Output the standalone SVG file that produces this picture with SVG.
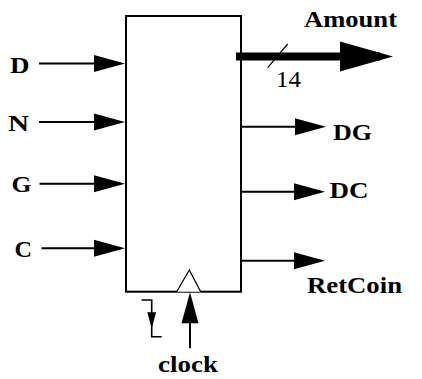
<svg xmlns="http://www.w3.org/2000/svg" width="422" height="379" viewBox="0 0 422 379">
  <style>
    .lbl { font-family: "Liberation Serif", "Times New Roman", serif; font-weight: bold; font-size: 22.5px; fill: #000; }
    .num { font-family: "Liberation Serif", "Times New Roman", serif; font-size: 24px; fill: #000; }
    .wire { fill: none; stroke: #000; stroke-width: 2; }
    .bus { fill: none; stroke: #000; stroke-width: 8; }
    .thin { fill: none; stroke: #000; stroke-width: 1.2; }
  </style>
  <defs>
    <marker id="ah" markerUnits="userSpaceOnUse" markerWidth="31" markerHeight="17" refX="27" refY="8.5" orient="auto" overflow="visible">
      <path d="M0,0 L31,8.5 L0,17 Z" fill="#000"/>
    </marker>
    <marker id="ahBig" markerUnits="userSpaceOnUse" markerWidth="53" markerHeight="30" refX="40" refY="15" orient="auto" overflow="visible">
      <path d="M0,0 L53,15 L0,30 Z" fill="#000"/>
    </marker>
    <marker id="ahSmall" markerUnits="userSpaceOnUse" markerWidth="16" markerHeight="9.4" refX="13" refY="4.7" orient="auto" overflow="visible">
      <path d="M0,0 L16,4.7 L0,9.4 Z" fill="#000"/>
    </marker>
  </defs>

  <g id="block">
    <rect x="126" y="16" width="115" height="275.7" fill="#fff" stroke="#000" stroke-width="2"/>
    <path d="M176.7,291.7 L189.3,270 L200.7,291.7" fill="#fff" stroke="#000" stroke-width="1.2"/>
  </g>

  <g id="connectors">
    <path class="wire" d="M39,63.5 H121" marker-end="url(#ah)"/>
    <path class="wire" d="M39,122 H121" marker-end="url(#ah)"/>
    <path class="wire" d="M39.5,183.7 H121" marker-end="url(#ah)"/>
    <path class="wire" d="M41.5,248.3 H121" marker-end="url(#ah)"/>
    <path class="bus" d="M236,56.5 H380" marker-end="url(#ahBig)"/>
    <path class="thin" d="M287.7,44 L267.7,67.7"/>
    <path class="wire" d="M241,126.7 H322" marker-end="url(#ah)"/>
    <path class="wire" d="M241,191.7 H321" marker-end="url(#ah)"/>
    <path class="wire" d="M241,260.7 H321" marker-end="url(#ah)"/>
    <path class="wire" d="M190,348.3 V296.3" marker-end="url(#ahSmall)" style="marker-end:url(#ah)"/>
    <path class="thin" style="stroke-width:1.6" d="M141.5,300 H151.7 V336.7 H161.7"/>
    <path d="M147.3,312.3 L156.1,312.3 L151.7,328.5 Z" fill="#000"/>
  </g>

  <g id="lbl-D"><text class="lbl" x="10" y="73" textLength="19.5" lengthAdjust="spacingAndGlyphs">D</text></g>
  <g id="lbl-N"><text class="lbl" x="8" y="130.5" textLength="21" lengthAdjust="spacingAndGlyphs">N</text></g>
  <g id="lbl-G"><text class="lbl" x="11.5" y="192" textLength="20" lengthAdjust="spacingAndGlyphs">G</text></g>
  <g id="lbl-C"><text class="lbl" x="14.5" y="256.5" textLength="17.5" lengthAdjust="spacingAndGlyphs">C</text></g>
  <g id="lbl-Amount"><text class="lbl" x="304" y="26.5" textLength="93" lengthAdjust="spacingAndGlyphs">Amount</text></g>
  <g id="lbl-14"><text class="num" x="276" y="87.3" textLength="25" lengthAdjust="spacingAndGlyphs">14</text></g>
  <g id="lbl-DG"><text class="lbl" x="333" y="140" textLength="39" lengthAdjust="spacingAndGlyphs">DG</text></g>
  <g id="lbl-DC"><text class="lbl" x="329.5" y="198.3" textLength="39" lengthAdjust="spacingAndGlyphs">DC</text></g>
  <g id="lbl-RetCoin"><text class="lbl" x="307" y="293.3" textLength="95" lengthAdjust="spacingAndGlyphs">RetCoin</text></g>
  <g id="lbl-clock"><text class="lbl" x="158" y="371.6" textLength="60" lengthAdjust="spacingAndGlyphs">clock</text></g>
</svg>
